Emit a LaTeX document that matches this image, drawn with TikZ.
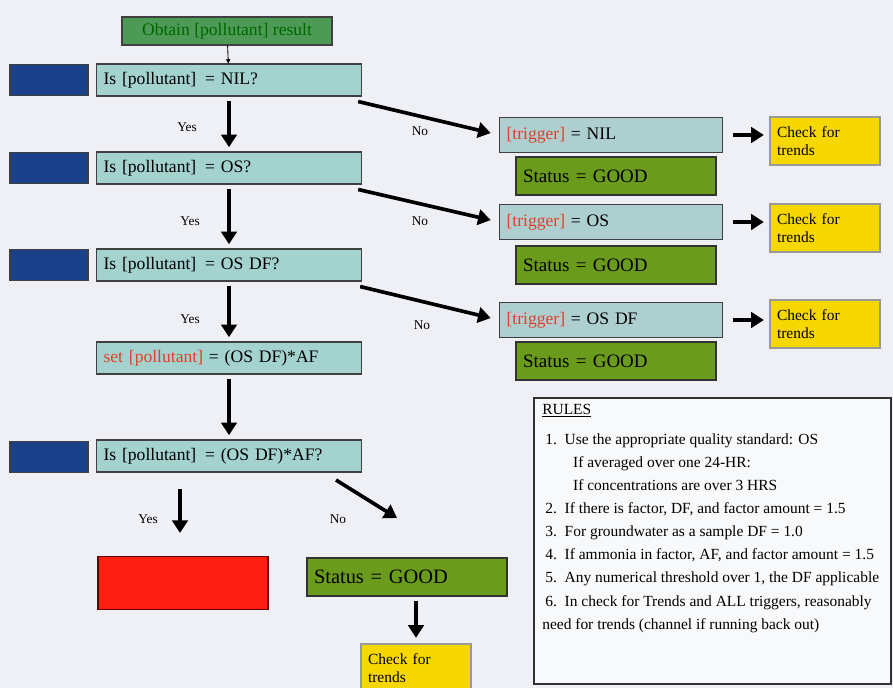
\documentclass[tikz,border=0pt]{standalone}
\usepackage{fontspec}
\setmainfont{Liberation Serif}
\usetikzlibrary{arrows.meta,calc}
\definecolor{bgpale}{HTML}{EEF0F6}
\definecolor{startgreen}{HTML}{4C9A55}
\definecolor{idblue}{HTML}{1A4089}
\definecolor{qteal}{HTML}{A3D2CF}
\definecolor{tteal}{HTML}{AECFCF}
\definecolor{statgreen}{HTML}{6B9B1C}
\definecolor{trendyellow}{HTML}{F6D700}
\definecolor{failred}{HTML}{FF1E12}
\definecolor{trigred}{HTML}{E0402A}
\tikzset{
  box/.style={draw=black!75, line width=0.8pt, inner xsep=5pt, inner ysep=2pt,
    font=\fontsize{12.5}{14}\selectfont},
  startbox/.style={box, fill=startgreen, text=black!60!green,
    minimum width=210*0.025cm, minimum height=28*0.025cm},
  idbox/.style={box, fill=idblue, minimum width=78*0.025cm, minimum height=31*0.025cm},
  qbox/.style={box, fill=qteal, text width=265*0.025cm-10pt, align=left,
    minimum height=32*0.025cm},
  tbox/.style={box, fill=tteal, text width=223*0.025cm-10pt, align=left,
    minimum height=35*0.025cm},
  statbox/.style={box, fill=statgreen, line width=1.4pt, draw=black!80,
    font=\fontsize{13.5}{15}\selectfont,
    text width=200*0.025cm-10pt, align=left, minimum height=38*0.025cm},
  trendbox/.style={box, fill=trendyellow, draw=black!40, font=\fontsize{11}{13}\selectfont,
    text width=110*0.025cm-10pt, align=left, minimum height=48*0.025cm},
  failbox/.style={box, fill=failred, draw=black!60!red, minimum width=170*0.025cm,
    minimum height=53*0.025cm},
  arr/.style={line width=2.6pt, -{Triangle[length=9pt,width=11pt]}},
  thinarr/.style={line width=0.6pt, -{Triangle[length=3pt,width=3pt]}},
  lab/.style={font=\fontsize{9.5}{10}\selectfont}
}
\begin{document}
\begin{tikzpicture}[x=0.025cm,y=-0.025cm]
\fill[bgpale] (0,0) rectangle (893,688);
\useasboundingbox (0,0) rectangle (893,688);

% left column
\node [startbox] (start) at (227,31) {Obtain [pollutant] result};

\node [idbox] (id1) at (49,80) {};
\node [qbox] (q1) at (229,80) {Is [pollutant]\enskip = NIL?};

\node [idbox] (id2) at (49,168) {};
\node [qbox] (q2) at (229,168) {Is [pollutant]\enskip = OS?};

\node [idbox] (id3) at (49,265) {};
\node [qbox] (q3) at (229,265) {Is [pollutant]\enskip = OS DF?};

\node [qbox] (q4) at (229,358) {\textcolor{trigred}{set [pollutant]} = (OS DF)*AF};

\node [idbox] (id5) at (49,457) {};
\node [qbox] (q5) at (229,456) {Is [pollutant]\enskip = (OS DF)*AF?};

% right column
\node [tbox] (t1) at (611,135) {\textcolor{trigred}{[trigger]} = NIL};
\node [statbox] (s1) at (616,176) {Status = GOOD};
\node [trendbox] (c1) at (825,141) {Check for\\trends};

\node [tbox] (t2) at (611,222) {\textcolor{trigred}{[trigger]} = OS};
\node [statbox] (s2) at (616,265) {Status = GOOD};
\node [trendbox] (c2) at (825,228) {Check for\\trends};

\node [tbox] (t3) at (611,320) {\textcolor{trigred}{[trigger]} = OS DF};
\node [statbox] (s3) at (616,361) {Status = GOOD};
\node [trendbox] (c3) at (825,324) {Check for\\trends};

% bottom
\node [failbox] (fail) at (183,583) {};
\node [statbox, font=\fontsize{14.5}{16}\selectfont] (s4) at (407,577) {Status = GOOD};
\node [trendbox] (c4) at (416,668) {Check for\\trends};

\coordinate (yesend) at (180,533);
\coordinate (noend) at (397,518);

% down arrows
\draw [thinarr] (start) -- (q1);
\draw [arr, shorten <=3pt, shorten >=3pt] (q1) -- (q2);
\draw [arr, shorten <=3pt, shorten >=3pt] (q2) -- (q3);
\draw [arr, shorten <=3pt, shorten >=3pt] (q3) -- (q4);
\draw [arr, shorten <=3pt, shorten >=3pt] (q4) -- (q5);
\draw [arr, shorten <=12pt] (yesend |- q5.south) -- (yesend);
\draw [arr, shorten <=3pt, shorten >=4pt] (s4.south -| c4.north) -- (c4.north);

% no arrows
\draw [arr, shorten <=3pt, shorten >=6pt] ($(q1.south east)+(-8,4)$) -- (t1.west);
\draw [arr, shorten <=3pt, shorten >=6pt] ($(q2.south east)+(-8,4)$) -- (t2.west);
\draw [arr, shorten <=3pt, shorten >=6pt] ($(q3.south east)+(-6,4)$) -- (t3.west);
\draw [arr, shorten <=10pt] ($(q5.south east)+(-38,0)$) -- (noend);

\draw [arr, line width=2.2pt, shorten <=7pt, shorten >=4pt] (t1.east) -- (c1.west |- t1.east);
\draw [arr, line width=2.2pt, shorten <=7pt, shorten >=4pt] (t2.east) -- (c2.west |- t2.east);
\draw [arr, line width=2.2pt, shorten <=7pt, shorten >=4pt] (t3.east) -- (c3.west |- t3.east);

% yes / no labels
\node [lab] (y1) at (187,127) {Yes};
\node [lab] (y2) at (190,221) {Yes};
\node [lab] (y3) at (190,319) {Yes};
\node [lab] (y5) at (148,519) {Yes};
\node [lab] (n1) at (420,131) {No};
\node [lab] (n2) at (420,221) {No};
\node [lab] (n3) at (422,325) {No};
\node [lab] (n5) at (338,519) {No};

% rules
\node [draw=black!80, line width=1.4pt, fill=white!60!bgpale, anchor=north west,
  minimum width=357*0.025cm, minimum height=286*0.025cm] (rules) at (533,397) {};
\node [anchor=north west, align=left, inner sep=0pt, font=\fontsize{11}{16.4}\selectfont]
  (rulestext) at (542,404) {\underline{RULES}\\[5pt]
  \hspace*{0.2em}1.\ \ Use the appropriate quality standard: OS\\
  \hspace*{2em}If averaged over one 24-HR:\\
  \hspace*{2em}If concentrations are over 3 HRS\\
  \hspace*{0.2em}2.\ \ If there is factor, DF, and factor amount = 1.5\\
  \hspace*{0.2em}3.\ \ For groundwater as a sample DF = 1.0\\
  \hspace*{0.2em}4.\ \ If ammonia in factor, AF, and factor amount = 1.5\\
  \hspace*{0.2em}5.\ \ Any numerical threshold over 1, the DF applicable\\
  \hspace*{0.2em}6.\ \ In check for Trends and ALL triggers, reasonably\\
  need for trends (channel if running back out)};
\end{tikzpicture}
\end{document}
